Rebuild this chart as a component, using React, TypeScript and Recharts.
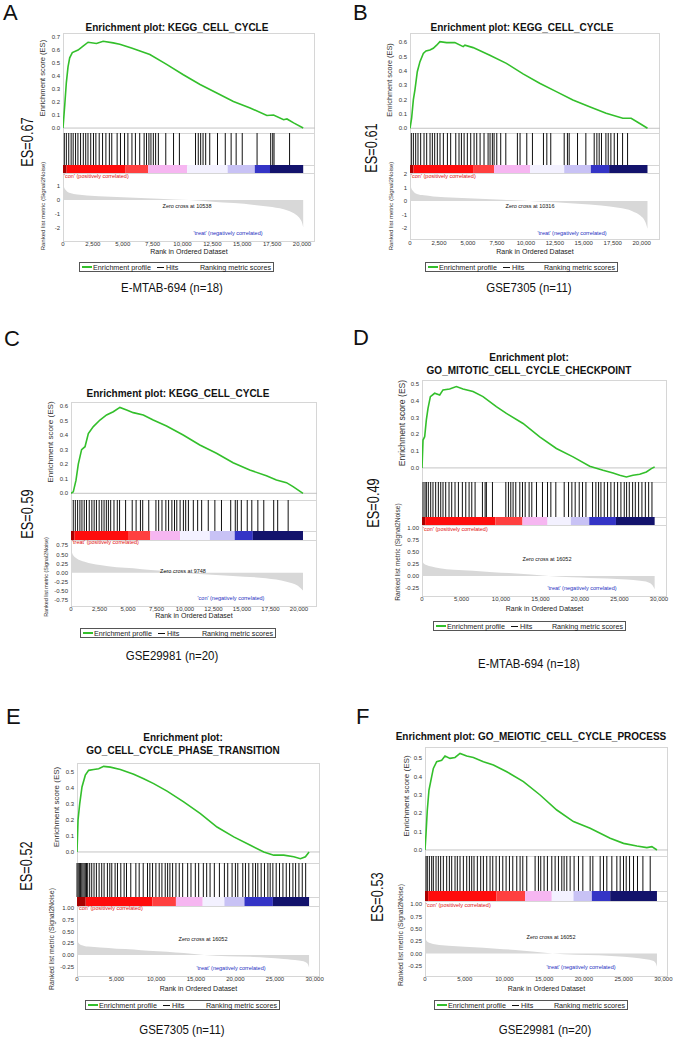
import React from 'react';
import {
  LineChart, Line, AreaChart, Area, ComposedChart, XAxis, YAxis, ReferenceLine, ReferenceArea,
} from 'recharts';

// ---- enrichment score curves: [rank, ES] ----
const esA = [[0,0],[140,0.17],[280,0.35],[420,0.47],[560,0.54],[780,0.58],[1260,0.6],[1680,0.63],[2100,0.66],[2800,0.65],[3360,0.667],[4200,0.655],[4750,0.645],[5730,0.615],[7270,0.565],[8670,0.49],[10070,0.41],[11470,0.335],[12870,0.27],[14260,0.205],[15660,0.155],[17060,0.097],[17620,0.1],[18460,0.064],[18740,0.07],[19300,0.04],[20100,0]];
const esB = [[0,0],[140,0.07],[290,0.2],[430,0.27],[630,0.395],[860,0.465],[1150,0.523],[1380,0.54],[1720,0.546],[2010,0.558],[2300,0.58],[2580,0.605],[3160,0.598],[3870,0.598],[4590,0.57],[4740,0.58],[5450,0.563],[6890,0.51],[8320,0.453],[9760,0.38],[11190,0.314],[12630,0.256],[14060,0.198],[15500,0.15],[16930,0.105],[18370,0.07],[19090,0.07],[19800,0.035],[20500,0]];
const esC = [[0,0],[200,0.01],[440,0.09],[640,0.2],[930,0.3],[1230,0.32],[1520,0.41],[1960,0.458],[2540,0.503],[3120,0.538],[3710,0.56],[4290,0.59],[4880,0.572],[5460,0.554],[6340,0.538],[7210,0.503],[8380,0.462],[9840,0.4],[11300,0.332],[12760,0.275],[14220,0.21],[15680,0.16],[17140,0.12],[18020,0.092],[18900,0.073],[19480,0.046],[20350,0]];
const esD = [[0,0],[130,0.166],[340,0.186],[550,0.286],[760,0.355],[1060,0.425],[1600,0.445],[2240,0.435],[2660,0.465],[3500,0.47],[4350,0.485],[5190,0.47],[6460,0.455],[7720,0.425],[9410,0.365],[10680,0.325],[12790,0.265],[14900,0.185],[17010,0.116],[19120,0.066],[21230,0.01],[22920,-0.014],[24180,-0.03],[25030,-0.044],[25870,-0.054],[26710,-0.044],[27560,-0.038],[28400,-0.024],[29030,-0.004],[29450,0.006]];
const esE = [[0,0],[130,0.2],[340,0.3],[630,0.406],[1050,0.48],[1470,0.51],[2110,0.515],[2740,0.52],[3370,0.535],[4210,0.53],[5470,0.515],[7160,0.485],[8420,0.458],[9680,0.427],[11370,0.38],[13470,0.313],[15580,0.24],[17680,0.156],[19790,0.094],[21890,0.042],[23580,0],[24840,-0.02],[26100,-0.02],[27370,-0.03],[28210,-0.042],[28840,-0.03],[29300,0]];
const esF = [[0,0],[130,0.09],[290,0.218],[500,0.327],[840,0.4],[1050,0.445],[1470,0.482],[2100,0.49],[2520,0.513],[3150,0.5],[3780,0.505],[4410,0.527],[5250,0.513],[6090,0.505],[7350,0.482],[8610,0.464],[10290,0.427],[12390,0.373],[14490,0.3],[16590,0.218],[18690,0.155],[20790,0.118],[22050,0.091],[23310,0.064],[24990,0.036],[26670,0.022],[27930,0.013],[28560,0.018],[29200,0]];

// ---- gene set hit positions (rank) ----
const hitsA = [110,280,480,680,850,1050,1250,1470,1700,1900,2090,2320,2550,2750,3030,3310,3590,3880,4080,4530,4810,5150,5430,5770,6060,6420,6790,6990,7190,7360,7560,7750,7980,8600,9250,9740,11090,11320,11520,11720,11940,12280,12930,13580,14070,14490,15000,16240,17380,17550,17660,18960];
const hitsB = [115,290,490,690,920,1210,1440,1730,1930,2130,2360,2590,2880,3230,3510,3950,4230,4440,4670,4950,5240,5530,5760,6050,6390,6740,6910,7110,7260,7490,7830,8270,9270,9500,10080,10570,11520,11810,12150,13310,13590,13740,14460,15180,15900,16130,16330,16530,16910,17110,17340,17630,17910,18350,18780];
const hitsC = [200,380,580,780,960,1160,1360,1600,1830,2030,2230,2470,2700,2900,3100,3280,3480,3770,4060,4260,4790,5370,5710,6090,6290,6820,7450,7690,7980,8320,8560,8850,9080,9280,9570,9860,10060,10300,10730,11110,11460,12040,12620,13200,14010,14410,14590,14940,15460,15860,16390,16910,17780,18130,19050];
const hitsD = [130,380,550,800,1100,1390,1730,2070,2370,2660,3000,3420,3760,4180,4610,5110,5540,5960,6300,6720,7650,7990,8150,8920,10610,10940,11240,11530,11870,12380,12720,13060,13560,13900,14490,15250,15890,16310,16940,18000,18550,18970,19390,19900,20320,20750,21590,22010,22350,22650,23070,23490,23910,24340,24760,25180,25600,25900,26240,26660,27000,27420,27840,28270,28690,29110];
const hitsE = [0,150,300,450,600,750,900,1050,1200,1350,1600,1860,2150,2450,2790,3120,3420,3840,4140,4390,4810,5110,5530,5950,6250,6790,7430,7850,8360,8900,9200,9540,9960,10380,10720,11140,11440,11730,12070,12490,12910,13340,13970,14390,14940,15360,15950,16370,16800,17340,17980,18610,19030,19580,20000,20300,20930,21270,21690,22200,22540,22830,23250,23670,24100,24390,24730,25150,25570,26000,26420,26840,27260,27600,28020,28440,28870];
const hitsF = [130,290,550,840,1050,1390,1680,1970,2310,2730,3070,3360,3780,4070,4410,4830,5250,5590,5880,6170,6590,7010,7350,7770,8190,8530,8950,9370,9790,10210,10630,11050,11550,11970,12310,12810,13860,14280,14570,14990,15410,15960,16380,16800,17220,17510,17850,18270,18770,19320,19870,20790,21130,22050,22470,22890,23520,24150,24570,24990,25330,25750,26250,26750,27430,28350];

// ---- colour bar break points (rank), one band per palette colour ----
const bandsA = [0,300,5200,7130,10390,13780,16050,17320,20100];
const bandsB = [0,300,5500,7260,10370,13310,15610,17190,20500];
const bandsC = [0,300,5000,6960,9570,12180,14360,15950,20350];
const bandsD = [0,400,9300,12720,15890,18840,21170,24550,29450];
const bandsE = [0,1100,9500,12490,15870,18610,21140,24730,29300];
const bandsF = [0,400,9000,12600,15960,18690,21000,23310,29200];

// ---- ranked list metric (Signal2Noise): [rank, value] ----
const rankA = [[0,1.3],[80,0.95],[250,0.7],[600,0.5],[1200,0.4],[2000,0.33],[4000,0.24],[6000,0.17],[8000,0.1],[10538,0],[12500,-0.12],[14300,-0.22],[16000,-0.35],[17500,-0.5],[18800,-0.75],[19500,-1.05],[19850,-1.35],[20000,-1.6],[20100,-1.95]];
const rankB = [[0,1.45],[80,1.05],[250,0.75],[600,0.52],[1200,0.42],[2000,0.34],[4000,0.24],[6000,0.16],[8000,0.09],[10316,0],[12500,-0.1],[14500,-0.2],[16500,-0.33],[18000,-0.5],[19200,-0.75],[19900,-1.1],[20250,-1.45],[20400,-1.75],[20500,-2.05]];
const rankC = [[0,0.62],[150,0.5],[500,0.39],[1200,0.3],[2540,0.21],[4000,0.15],[5460,0.12],[7000,0.07],[8380,0.04],[9748,0],[12000,-0.05],[14200,-0.09],[17100,-0.155],[18900,-0.25],[19900,-0.36],[20350,-0.49]];
const rankD = [[0,0.35],[150,0.28],[550,0.23],[1200,0.2],[2240,0.16],[4000,0.13],[6460,0.11],[9000,0.08],[11000,0.06],[13800,0.03],[16052,0],[19000,-0.025],[21200,-0.04],[23500,-0.055],[25900,-0.075],[27600,-0.1],[28600,-0.13],[29200,-0.2],[29450,-0.28]];
const rankE = [[0,0.33],[150,0.27],[630,0.21],[1400,0.18],[2950,0.16],[5000,0.135],[7160,0.12],[9000,0.09],[11370,0.07],[13500,0.04],[16052,0],[19000,-0.025],[21890,-0.04],[24000,-0.06],[26100,-0.085],[28000,-0.12],[28800,-0.15],[29150,-0.2],[29300,-0.27]];
const rankF = [[0,0.34],[150,0.27],[630,0.21],[1400,0.18],[2950,0.155],[5000,0.135],[7350,0.115],[9000,0.095],[11370,0.07],[13500,0.04],[16052,0],[19000,-0.025],[21890,-0.04],[24000,-0.06],[26100,-0.085],[27800,-0.12],[28700,-0.15],[29050,-0.2],[29200,-0.27]];

// ---- ticks ----
const xTicks20k = [0,2500,5000,7500,10000,12500,15000,17500,20000];
const xTicks30k = [0,5000,10000,15000,20000,25000,30000];
const esTicks07 = [0,0.1,0.2,0.3,0.4,0.5,0.6,0.7];
const esTicks06 = [0,0.1,0.2,0.3,0.4,0.5,0.6];
const esTicks05 = [0,0.1,0.2,0.3,0.4,0.5];
const metricTicksA = [-2,-1,0,1];
const metricTicksB = [-2,-1,0,1,2];
const metricTicksC = [-0.75,-0.5,-0.25,0,0.25,0.5,0.75];
const metricTicksDEF = [-0.25,0,0.25,0.5,0.75,1];

const FONT = '"Liberation Sans", Arial, Helvetica, sans-serif';
const AXW = 30;
const XH = 10;
const PAD_T = 6;
const PAD_R = 16;
const GREEN = '#33bf2b';
const FRAME = '#d6d6d6';
const BAND_COLORS = ['#a80000', '#ff0c0c', '#ff4040', '#f6b6f1', '#f3f1ff', '#c8c2f5', '#3434c6', '#13136c'];

type Panel = {
  letter: string; letterX: number; letterY: number;
  title: string[]; titleX: number; titleY: number;
  left: number; right: number; xMax: number; xTicks: number[];
  esTop: number; esBottom: number; esDomain: [number, number]; esTicks: number[];
  hitsBottom: number; barBottom: number; rankBottom: number;
  rankDomain: [number, number]; rankTicks: number[]; rankDecimals: number;
  es: number[][]; hits: number[]; bands: number[]; metric: number[][];
  esLab: [number, number, number]; rkLab: [number, number, number]; xLabY: number;
  pos: string; neg: string; zero: string;
  posY: number; zeroX: number; zeroY: number; negX: number; negY: number;
  legendX: number; legendY: number; legendW: number;
  caption: string; captionX: number; captionY: number;
  esText: string; esX: number; esY: number;
};

const PANELS: Panel[] = [
  {
    letter: 'A', letterX: 3, letterY: 2, title: ['Enrichment plot: KEGG_CELL_CYCLE'], titleX: 177, titleY: 21,
    left: 63, right: 315, xMax: 21088, xTicks: xTicks20k,
    esTop: 33, esBottom: 133, esDomain: [-0.038, 0.731], esTicks: esTicks07,
    hitsBottom: 165, barBottom: 173, rankBottom: 240.5, rankDomain: [-2.89, 1.93], rankTicks: metricTicksA, rankDecimals: 0,
    es: esA, hits: hitsA, bands: bandsA, metric: rankA,
    esLab: [43, 78, 7.6], rkLab: [43, 206, 6], xLabY: 252,
    pos: "'con' (positively correlated)", neg: "'treat' (negatively correlated)", zero: 'Zero cross at 10538',
    posY: 176, zeroX: 187, zeroY: 206, negX: 228, negY: 233,
    legendX: 79, legendY: 262, legendW: 195,
    caption: 'E-MTAB-694 (n=18)', captionX: 172, captionY: 288,
    esText: 'ES=0.67', esX: 28, esY: 142,
  },
  {
    letter: 'B', letterX: 353, letterY: 2, title: ['Enrichment plot: KEGG_CELL_CYCLE'], titleX: 522, titleY: 21,
    left: 410, right: 660, xMax: 21580, xTicks: xTicks20k,
    esTop: 33, esBottom: 133, esDomain: [-0.033, 0.665], esTicks: esTicks06,
    hitsBottom: 165, barBottom: 173, rankBottom: 239, rankDomain: [-2.81, 2.07], rankTicks: metricTicksB, rankDecimals: 0,
    es: esB, hits: hitsB, bands: bandsB, metric: rankB,
    esLab: [390, 80, 7.3], rkLab: [391, 206, 6], xLabY: 252,
    pos: "'con' (positively correlated)", neg: "'treat' (negatively correlated)", zero: 'Zero cross at 10316',
    posY: 176, zeroX: 530, zeroY: 206, negX: 572, negY: 233,
    legendX: 425, legendY: 262, legendW: 193,
    caption: 'GSE7305 (n=11)', captionX: 529, captionY: 288,
    esText: 'ES=0.61', esX: 372, esY: 148,
  },
  {
    letter: 'C', letterX: 4, letterY: 328, title: ['Enrichment plot: KEGG_CELL_CYCLE'], titleX: 178, titleY: 387,
    left: 71, right: 317, xMax: 21579, xTicks: xTicks20k,
    esTop: 402, esBottom: 500, esDomain: [-0.046, 0.627], esTicks: esTicks06,
    hitsBottom: 531, barBottom: 540, rankBottom: 605.5, rankDomain: [-0.9, 0.896], rankTicks: metricTicksC, rankDecimals: 2,
    es: esC, hits: hitsC, bands: bandsC, metric: rankC,
    esLab: [51, 442, 8.1], rkLab: [47, 577, 5.4], xLabY: 616,
    pos: "'treat' (positively correlated)", neg: "'con' (negatively correlated)", zero: 'Zero cross at 9748',
    posY: 542, zeroX: 183, zeroY: 571, negX: 231, negY: 598,
    legendX: 80, legendY: 628, legendW: 196,
    caption: 'GSE29981 (n=20)', captionX: 172, captionY: 656,
    esText: 'ES=0.59', esX: 28, esY: 514,
  },
  {
    letter: 'D', letterX: 353, letterY: 327, title: ['Enrichment plot:', 'GO_MITOTIC_CELL_CYCLE_CHECKPOINT'], titleX: 529, titleY: 351,
    left: 422, right: 667, xMax: 31013, xTicks: xTicks30k,
    esTop: 380, esBottom: 482, esDomain: [-0.084, 0.524], esTicks: esTicks05,
    hitsBottom: 517, barBottom: 525, rankBottom: 595.5, rankDomain: [-0.41, 1.07], rankTicks: metricTicksDEF, rankDecimals: 2,
    es: esD, hits: hitsD, bands: bandsD, metric: rankD,
    esLab: [402, 423, 8.6], rkLab: [398, 552, 6.6], xLabY: 609,
    pos: "'con' (positively correlated)", neg: "'treat' (negatively correlated)", zero: 'Zero cross at 16052',
    posY: 529, zeroX: 547, zeroY: 559, negX: 582, negY: 588,
    legendX: 433, legendY: 621, legendW: 193,
    caption: 'E-MTAB-694 (n=18)', captionX: 529, captionY: 664,
    esText: 'ES=0.49', esX: 374, esY: 503,
  },
  {
    letter: 'E', letterX: 6, letterY: 706, title: ['Enrichment plot:', 'GO_CELL_CYCLE_PHASE_TRANSITION'], titleX: 183, titleY: 731,
    left: 77, right: 320, xMax: 30680, xTicks: xTicks30k,
    esTop: 763, esBottom: 863, esDomain: [-0.069, 0.556], esTicks: esTicks05,
    hitsBottom: 897, barBottom: 906, rankBottom: 975.5, rankDomain: [-0.44, 1.05], rankTicks: metricTicksDEF, rankDecimals: 2,
    es: esE, hits: hitsE, bands: bandsE, metric: rankE,
    esLab: [57, 807, 8], rkLab: [52, 939, 6.9], xLabY: 989,
    pos: "'con' (positively correlated)", neg: "'treat' (negatively correlated)", zero: 'Zero cross at 16052',
    posY: 908, zeroX: 203, zeroY: 939, negX: 231, negY: 968,
    legendX: 85, legendY: 1000, legendW: 195,
    caption: 'GSE7305 (n=11)', captionX: 182, captionY: 1030,
    esText: 'ES=0.52', esX: 27, esY: 866,
  },
  {
    letter: 'F', letterX: 356, letterY: 706, title: ['Enrichment plot: GO_MEIOTIC_CELL_CYCLE_PROCESS'], titleX: 531, titleY: 730,
    left: 425, right: 668, xMax: 30590, xTicks: xTicks30k,
    esTop: 747, esBottom: 856, esDomain: [-0.033, 0.562], esTicks: esTicks05,
    hitsBottom: 891, barBottom: 901, rankBottom: 975.5, rankDomain: [-0.45, 1.067], rankTicks: metricTicksDEF, rankDecimals: 2,
    es: esF, hits: hitsF, bands: bandsF, metric: rankF,
    esLab: [407, 796, 8.1], rkLab: [401, 935, 6.9], xLabY: 989,
    pos: "'con' (positively correlated)", neg: "'treat' (negatively correlated)", zero: 'Zero cross at 16052',
    posY: 905, zeroX: 551, zeroY: 937, negX: 581, negY: 967,
    legendX: 434, legendY: 1000, legendW: 194,
    caption: 'GSE29981 (n=20)', captionX: 545, captionY: 1030,
    esText: 'ES=0.53', esX: 378, esY: 897,
  },
];

const tickStyle = { fontSize: 6, fill: '#333' };
const abs = (left: number, top: number): React.CSSProperties => ({ position: 'absolute', left, top });

function Frame({ x, y, w, h }: { x: number; y: number; w: number; h: number }) {
  return <div style={{ ...abs(x, y), width: w, height: h, border: `1px solid ${FRAME}`, boxSizing: 'border-box' }} />;
}

function Note({ text, x, y, color, anchor }: { text: string; x: number; y: number; color: string; anchor: 'left' | 'center' }) {
  return (
    <div style={{
      ...abs(anchor === 'center' ? x - 80 : x, y - 3), width: anchor === 'center' ? 160 : 200,
      textAlign: anchor, fontSize: 5.5, lineHeight: '6px', color, whiteSpace: 'nowrap',
    }}>{text}</div>
  );
}

function VText({ text, at }: { text: string; at: [number, number, number] }) {
  return (
    <div style={{
      ...abs(at[0], at[1]), fontSize: at[2], lineHeight: `${at[2]}px`, whiteSpace: 'nowrap', color: '#333',
      transform: 'translate(-50%, -50%) rotate(-90deg)',
    }}>{text}</div>
  );
}

function GseaPanel({ p }: { p: Panel }) {
  const plotW = p.right - p.left;
  const chartL = p.left - AXW;
  const chartW = AXW + plotW;
  const esData = p.es.map(([r, v]) => ({ r, v }));
  const metricData = p.metric.map(([r, v]) => ({ r, v }));
  const hitData = p.hits.map((r) => ({ r, v: 2 }));
  const xDomain: [number, number] = [0, p.xMax];
  const m = { top: 0, right: 0, bottom: 0, left: 0 };
  const mPad = { top: PAD_T, right: PAD_R, bottom: 0, left: 0 };

  return (
    <>
      <div style={{ ...abs(p.letterX, p.letterY), fontSize: 22, lineHeight: '22px' }}>{p.letter}</div>

      <Frame x={p.left} y={p.esTop} w={plotW} h={p.esBottom - p.esTop + 1} />
      <Frame x={p.left} y={p.esBottom} w={plotW} h={p.barBottom - p.esBottom + 1} />
      <Frame x={p.left} y={p.hitsBottom} w={plotW} h={p.barBottom - p.hitsBottom + 1} />
      <Frame x={p.left} y={p.barBottom} w={plotW} h={p.rankBottom - p.barBottom + 1} />

      <div style={abs(chartL, p.esTop - PAD_T)}>
        <LineChart width={chartW + PAD_R} height={p.esBottom - p.esTop + PAD_T} data={esData} margin={mPad}>
          <XAxis type="number" dataKey="r" domain={xDomain} allowDataOverflow hide />
          <YAxis
            type="number" domain={p.esDomain} allowDataOverflow ticks={p.esTicks} interval={0} width={AXW}
            tick={tickStyle} tickLine={false} axisLine={false} tickSize={0} tickMargin={3}
            tickFormatter={(v: number) => v.toFixed(1)}
          />
          <ReferenceLine y={0} stroke="#c4c4c4" />
          <Line type="linear" dataKey="v" stroke={GREEN} strokeWidth={1.6} dot={false} isAnimationActive={false} />
        </LineChart>
      </div>

      <div style={abs(chartL, p.esBottom)}>
        <ComposedChart width={chartW} height={p.hitsBottom - p.esBottom} data={hitData} margin={m}>
          <XAxis type="number" dataKey="r" domain={xDomain} allowDataOverflow hide />
          <YAxis type="number" domain={[0, 1]} allowDataOverflow width={AXW} tick={false} tickLine={false} axisLine={false} />
          <Line dataKey="v" stroke="none" dot={false} legendType="none" isAnimationActive={false} />
          {p.hits.map((h, i) => (
            <ReferenceLine key={i} x={h} stroke="#111" strokeWidth={1} ifOverflow="visible" />
          ))}
        </ComposedChart>
      </div>

      <div style={abs(chartL, p.hitsBottom)}>
        <ComposedChart width={chartW} height={p.barBottom - p.hitsBottom} data={hitData} margin={m}>
          <XAxis type="number" dataKey="r" domain={xDomain} allowDataOverflow hide />
          <YAxis type="number" domain={[0, 1]} allowDataOverflow width={AXW} tick={false} tickLine={false} axisLine={false} />
          <Line dataKey="v" stroke="none" dot={false} legendType="none" isAnimationActive={false} />
          {BAND_COLORS.map((c, i) => (
            <ReferenceArea key={i} x1={p.bands[i]} x2={p.bands[i + 1]} y1={0} y2={1} fill={c} fillOpacity={1} stroke="none" ifOverflow="visible" />
          ))}
        </ComposedChart>
      </div>

      <div style={abs(chartL, p.barBottom - PAD_T)}>
        <AreaChart width={chartW + PAD_R} height={p.rankBottom - p.barBottom + XH + PAD_T} data={metricData} margin={mPad}>
          <XAxis
            type="number" dataKey="r" domain={xDomain} allowDataOverflow ticks={p.xTicks} interval={0} height={XH}
            tick={tickStyle} tickLine={false} axisLine={false} tickSize={0} tickMargin={1.5}
            tickFormatter={(v: number) => v.toLocaleString('en-US')}
          />
          <YAxis
            type="number" domain={p.rankDomain} allowDataOverflow ticks={p.rankTicks} interval={0} width={AXW}
            tick={tickStyle} tickLine={false} axisLine={false} tickSize={0} tickMargin={3}
            tickFormatter={(v: number) => v.toFixed(p.rankDecimals)}
          />
          <Area type="monotone" dataKey="v" baseValue={0} stroke="none" fill="#d8d8d8" fillOpacity={1} isAnimationActive={false} />
        </AreaChart>
      </div>

      <VText text="Enrichment score (ES)" at={p.esLab} />
      <VText text="Ranked list metric (Signal2Noise)" at={p.rkLab} />
      <div style={{
        ...abs((p.left + p.right) / 2 - 80, p.xLabY - 4), width: 160, textAlign: 'center',
        fontSize: 7, lineHeight: '8px', color: '#222',
      }}>Rank in Ordered Dataset</div>

      <Note text={p.pos} x={p.left + 1} y={p.posY} color="#e01010" anchor="left" />
      <Note text={p.zero} x={p.zeroX} y={p.zeroY} color="#111" anchor="center" />
      <Note text={p.neg} x={p.negX} y={p.negY} color="#1c2fc0" anchor="center" />

      <div style={{
        ...abs(p.legendX, p.legendY), width: p.legendW, height: 10, border: '1px solid #555', boxSizing: 'border-box',
        display: 'flex', alignItems: 'center', fontSize: 7.2, whiteSpace: 'nowrap', color: '#222',
      }}>
        <span style={{ display: 'inline-block', width: 10, height: 2, marginLeft: 2, marginRight: 1, background: GREEN }} />
        <span>Enrichment profile</span>
        <span style={{ display: 'inline-block', width: 7, height: 1, marginLeft: 6, marginRight: 2, background: '#111' }} />
        <span>Hits</span>
        <span style={{ marginLeft: 'auto', marginRight: 2 }}>Ranking metric scores</span>
      </div>

      <div style={{
        ...abs(p.captionX - 100, p.captionY - 8), width: 200, textAlign: 'center',
        fontSize: 13, lineHeight: '16px', transform: 'scaleX(0.88)',
      }}>{p.caption}</div>

      <div style={{
        ...abs(p.esX, p.esY), fontSize: 16, lineHeight: '16px', whiteSpace: 'nowrap',
        transform: 'translate(-50%, -50%) rotate(-90deg) scaleX(0.8)',
      }}>{p.esText}</div>

      <div style={{
        ...abs(p.titleX - 160, p.titleY), width: 320, textAlign: 'center',
        fontSize: 10, fontWeight: 'bold', lineHeight: '13px',
      }}>
        {p.title.map((t) => <div key={t}>{t}</div>)}
      </div>
    </>
  );
}

export default function App() {
  return (
    <div style={{
      position: 'absolute', left: 0, top: 0, width: 677, height: 1042, background: '#fff',
      fontFamily: FONT, color: '#111', overflow: 'hidden',
    }}>
      {PANELS.map((p) => <GseaPanel key={p.letter} p={p} />)}
    </div>
  );
}
